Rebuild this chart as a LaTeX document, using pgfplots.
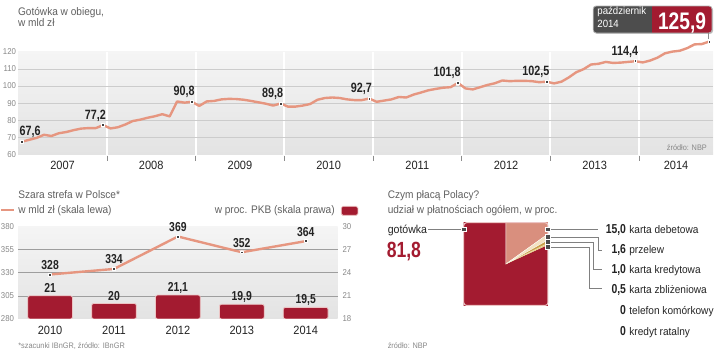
\documentclass[border=0pt]{standalone}
\usepackage{fontspec}
\setmainfont{Liberation Sans}[FakeStretch=0.92]
\newfontfamily\cond{Liberation Sans}[FakeStretch=0.8]
\usepackage{pgfplots}
\pgfplotsset{compat=1.18}
\definecolor{salmon}{RGB}{230,150,128}
\definecolor{zred}{RGB}{163,27,48}
\definecolor{boxgray}{RGB}{77,77,77}
\definecolor{txt}{RGB}{95,95,95}
\definecolor{tickc}{RGB}{135,135,135}
\definecolor{dark}{RGB}{35,35,35}
\definecolor{pinkb}{RGB}{236,196,196}
\definecolor{debet}{RGB}{217,143,126}
\definecolor{przel}{RGB}{243,227,195}
\definecolor{kred}{RGB}{200,160,74}
\definecolor{zbliz}{RGB}{233,209,138}
\begin{document}
\begin{tikzpicture}
\begin{scope}[x=1pt,y=1pt]
\path[use as bounding box] (0,0) rectangle (720,352);
\node[anchor=base west, inner sep=0, text=txt, font=\fontsize{11}{12}\selectfont] at (16.7,336) {Gotówka w obiegu,};
\node[anchor=base west, inner sep=0, text=txt, font=\fontsize{11}{12}\selectfont] at (16.7,325.3) {w mld zł};
\end{scope}
% ---------- top chart
\begin{axis}[at={(17pt,197pt)}, anchor=south west, scale only axis,
  width=696pt, height=103.3pt,
  xmin=0, xmax=94, ymin=60, ymax=120, clip=false,
  axis line style={draw=none}, major tick length=0pt,
  axis background/.style={top color=black!4, bottom color=black!11},
  /pgf/number format/assume math mode=true,
  ytick={60,70,...,120},
  yticklabel style={font=\fontsize{8.5}{9}\selectfont, text=tickc, inner sep=0pt, anchor=east, xshift=-2pt},
  xtick={6,18,30,42,54,66,78,89},
  xticklabels={2007,2008,2009,2010,2011,2012,2013,2014},
  xticklabel style={font=\fontsize{12}{12}\selectfont, text=dark, inner sep=0pt, anchor=base, yshift=-15pt},
  extra y ticks={70,80,90,100,110}, extra y tick labels={},
  extra y tick style={grid=major, major grid style={black!20, line width=0.5pt}},
  extra x ticks={12,24,36,48,60,72,84}, extra x tick labels={},
  extra x tick style={grid=major, major grid style={white, line width=2pt}},
]
\pgfplotsinvokeforeach{12,24,36,48,60,72,84}{
  \draw[black!45, line width=0.6pt] (axis cs:#1,60) ++(0pt,-1pt) -- ++(0pt,-5pt);
}
\addplot[salmon, line width=2.4pt, line join=round] table {
x y
0.5 67.6
1.5 68.7
2.5 69.8
3.5 71.6
4.5 70.9
5.5 72.5
6.5 73.2
7.5 74.3
8.5 75.2
9.5 75.5
10.5 75.5
11.5 77.2
12.5 75.3
13.5 76.0
14.5 77.6
15.5 79.6
16.5 80.4
17.5 81.5
18.5 82.4
19.5 83.6
20.5 82.3
21.5 91.0
22.5 90.3
23.5 90.8
24.5 88.4
25.5 91.0
26.5 91.3
27.5 92.2
28.5 92.5
29.5 92.4
30.5 92.0
31.5 91.3
32.5 90.5
33.5 89.7
34.5 88.6
35.5 89.8
36.5 88.0
37.5 88.0
38.5 88.6
39.5 89.5
40.5 92.0
41.5 93.0
42.5 93.3
43.5 93.0
44.5 92.2
45.5 91.8
46.5 91.8
47.5 92.7
48.5 90.8
49.5 91.5
50.5 92.2
51.5 93.6
52.5 93.3
53.5 95.0
54.5 96.2
55.5 97.5
56.5 98.3
57.5 99.0
58.5 99.3
59.5 101.8
60.5 98.6
61.5 98.0
62.5 99.3
63.5 100.6
64.5 101.6
65.5 103.2
66.5 102.8
67.5 103.0
68.5 103.0
69.5 102.8
70.5 102.2
71.5 102.5
72.5 101.5
73.5 102.5
74.5 105.0
75.5 108.0
76.5 109.8
77.5 112.5
78.5 112.9
79.5 114.0
80.5 113.4
81.5 113.6
82.5 114.0
83.5 114.4
84.5 113.7
85.5 114.8
86.5 116.5
87.5 119.0
88.5 120.0
89.5 120.5
90.5 122.0
91.5 124.2
92.5 124.4
93.5 125.9
};
\addplot[only marks, mark=square*, mark size=1.4pt,
  mark options={fill=black!75, draw=white, line width=0.7pt},
  nodes near coords, point meta=explicit symbolic,
  nodes near coords style={font=\cond\bfseries\fontsize{13.5}{14}\selectfont, text=dark, anchor=base east, inner sep=0pt, xshift=3pt, yshift=6pt}]
  table[meta=lab] {
x y lab
11.5 77.2 77,2
23.5 90.8 90,8
35.5 89.8 89,8
47.5 92.7 92,7
59.5 101.8 101,8
71.5 102.5 102,5
83.5 114.4 114,4
};
\addplot[only marks, mark=square*, mark size=1.4pt,
  mark options={fill=black!75, draw=white, line width=0.7pt},
  nodes near coords, point meta=explicit symbolic,
  nodes near coords style={font=\cond\bfseries\fontsize{13.5}{14}\selectfont, text=dark, anchor=base west, inner sep=0pt, xshift=-2.5pt, yshift=6.5pt}]
  table[meta=lab] {
x y lab
0.5 67.6 67,6
};
\addplot[only marks, mark=square*, mark size=1.4pt,
  mark options={fill=black!75, draw=white, line width=0.7pt}]
  table {
x y
93.5 125.9
};
\end{axis}
% bars (right scale)
\begin{axis}[at={(17pt,32.5pt)}, anchor=south west, scale only axis,
  width=320pt, height=92.8pt,
  xmin=-0.5, xmax=4.5, ymin=18, ymax=30,
  axis line style={draw=none}, major tick length=0pt,
  axis background/.style={top color=black!4, bottom color=black!11},
  /pgf/number format/assume math mode=true,
  xtick=\empty,
  ytick={18,21,...,30}, yticklabel pos=right,
  yticklabel style={font=\fontsize{8.5}{9}\selectfont, text=tickc, inner sep=0pt, anchor=west, xshift=4.7pt},
  extra y ticks={21,24,27}, extra y tick labels={},
  extra y tick style={grid=major, major grid style={black!38, line width=0.5pt}},
]
\addplot[ybar, bar width=0.7, fill=zred, draw=pinkb, line width=0.8pt, rounded corners=2pt,
  nodes near coords, point meta=explicit symbolic,
  nodes near coords style={font=\cond\bfseries\fontsize{13}{13}\selectfont, text=dark, anchor=base, inner sep=0pt, yshift=3.5pt}]
  table[meta=lab] {
x y lab
0 21 21
1 20 20
2 21.1 21,1
3 19.9 19,9
4 19.5 19,5
};
\end{axis}
% line (left scale)
\begin{axis}[at={(17pt,32.5pt)}, anchor=south west, scale only axis,
  width=320pt, height=92.8pt,
  xmin=-0.5, xmax=4.5, ymin=280, ymax=380, clip=false,
  axis line style={draw=none}, major tick length=0pt,
  /pgf/number format/assume math mode=true,
  ytick={280,305,...,380},
  yticklabel style={font=\fontsize{8.5}{9}\selectfont, text=tickc, inner sep=0pt, anchor=east, xshift=-4pt},
  xtick={0,1,2,3,4}, xticklabels={2010,2011,2012,2013,2014},
  xticklabel style={font=\fontsize{12}{12}\selectfont, text=dark, inner sep=0pt, anchor=base, yshift=-15.5pt},
]
\addplot[salmon, line width=2.4pt, line join=round, mark=square*, mark size=1.4pt,
  mark options={fill=black!75, draw=white, line width=0.7pt},
  nodes near coords, point meta=explicit symbolic,
  nodes near coords style={font=\cond\bfseries\fontsize{13}{13}\selectfont, text=dark, anchor=base, inner sep=0pt, yshift=5pt}]
  table[meta=lab] {
x y lab
0 328 328
1 334 334
2 369 369
3 352 352
4 364 364
};
\end{axis}
% pie
\begin{axis}[at={(463.3pt,46pt)}, anchor=south west, scale only axis,
  width=84.4pt, height=83pt, xmin=-1, xmax=1, ymin=-1, ymax=1, hide axis]
\addplot[fill=zred, draw=none] coordinates {(0,0) (2.722,1.260) (3,-3) (-3,-3) (-3,3) (0,3)} -- cycle;
\addplot[fill=debet, draw=white, line width=0.3pt] coordinates {(0,0) (0,3) (3,3) (2.427,1.763)} -- cycle;
\addplot[fill=przel, draw=white, line width=0.3pt] coordinates {(0,0) (2.427,1.763) (2.592,1.511)} -- cycle;
\addplot[fill=kred, draw=white, line width=0.3pt] coordinates {(0,0) (2.592,1.511) (2.682,1.345)} -- cycle;
\addplot[fill=zbliz, draw=none] coordinates {(0,0) (2.682,1.345) (2.722,1.260)} -- cycle;
\end{axis}
\begin{scope}[x=1pt,y=1pt]
\node[anchor=base east, inner sep=0, text=tickc, font=\fontsize{8}{9}\selectfont] at (707,201) {źródło: NBP};
% callout
\fill[black!25, rounded corners=3pt] (594,318) rectangle (713,345);
\begin{scope}
\clip[rounded corners=3pt] (593,319) rectangle (712,346);
\fill[boxgray] (593,319) rectangle (651.7,346);
\fill[zred] (651.7,319) rectangle (712,346);
\end{scope}
\draw[black!30, line width=0.8pt, rounded corners=3pt] (593,319) rectangle (712,346);
\node[anchor=base west, inner sep=0, text=white, font=\fontsize{10.5}{11}\selectfont] at (597,337.5) {październik};
\node[anchor=base west, inner sep=0, text=white, font=\fontsize{10.5}{11}\selectfont] at (597,324.5) {2014};
\node[anchor=base, inner sep=0, text=white, font=\cond\bfseries\fontsize{24}{24}\selectfont] at (682,322.5) {125,9};
\draw[black!45, line width=0.6pt] (708,319) -- (708,313);
% bottom left titles and legend
\node[anchor=base west, inner sep=0, text=txt, font=\fontsize{11}{12}\selectfont] at (17,152.7) {Szara strefa w Polsce*};
\node[anchor=base west, inner sep=0, text=txt, font=\fontsize{11}{12}\selectfont] at (17,138) {w mld zł (skala lewa)};
\draw[salmon, line width=2.4pt] (0,141.5) -- (12.7,141.5);
\node[anchor=base east, inner sep=0, text=txt, font=\fontsize{11}{12}\selectfont] at (334.3,138) {w proc. PKB (skala prawa)};
\draw[pinkb, fill=zred, line width=0.8pt, rounded corners=1.5pt] (340.7,136.3) rectangle (357.3,145.3);
\node[anchor=base west, inner sep=0, text=tickc, font=\fontsize{8}{9}\selectfont] at (17,3) {*szacunki IBnGR, źródło: IBnGR};
% bottom right
\node[anchor=base west, inner sep=0, text=txt, font=\fontsize{11}{12}\selectfont] at (387,152.7) {Czym płacą Polacy?};
\node[anchor=base west, inner sep=0, text=txt, font=\fontsize{11}{12}\selectfont] at (387,138) {udział w płatnościach ogółem, w proc.};
\node[anchor=base west, inner sep=0, text=dark, font=\fontsize{11.5}{12}\selectfont] at (387,118) {gotówka};
\node[anchor=base west, inner sep=0, text=zred, font=\cond\bfseries\fontsize{22}{22}\selectfont] at (386,93.7) {81,8};
\node[anchor=base west, inner sep=0, text=tickc, font=\fontsize{8}{9}\selectfont] at (387,3) {źródło: NBP};
\draw[pinkb, line width=1pt, rounded corners=3pt] (463.3,46) rectangle (547.7,129);
\draw[black!50, line width=0.7pt] (428,122.3) -- (461,122.3);
\draw[black!50, line width=0.7pt] (550,122.3) -- (598,122.3);
\draw[black!50, line width=0.7pt] (550,114.7) -- (598,114.7) -- (598,101) -- (601.5,101);
\draw[black!50, line width=0.7pt] (550,109.7) -- (593.3,109.7) -- (593.3,82) -- (601.5,82);
\draw[black!50, line width=0.7pt] (550,104.7) -- (589.3,104.7) -- (589.3,62.7) -- (601.5,62.7);
\foreach \yy in {122.3,114.7,109.7,104.7}{
  \node[fill=black!70, draw=white, line width=0.6pt, minimum size=4.6pt, inner sep=0] at (547.5,\yy) {};
}
\node[fill=black!70, draw=white, line width=0.6pt, minimum size=4.6pt, inner sep=0] at (463.5,122.3) {};
\foreach \yy/\num/\lab in {118/{15,0}/karta debetowa, 97.7/{1,6}/przelew, 78/{1,0}/karta kredytowa, 58/{0,5}/karta zbliżeniowa, 37/0/telefon komórkowy, 16.3/0/kredyt ratalny}{
  \node[anchor=base east, inner sep=0, text=dark, font=\cond\bfseries\fontsize{13}{13}\selectfont] at (626,\yy) {\num};
  \node[anchor=base west, inner sep=0, text=dark, font=\fontsize{11}{12}\selectfont] at (629,\yy) {\lab};
}
\end{scope}
\end{tikzpicture}
\end{document}
